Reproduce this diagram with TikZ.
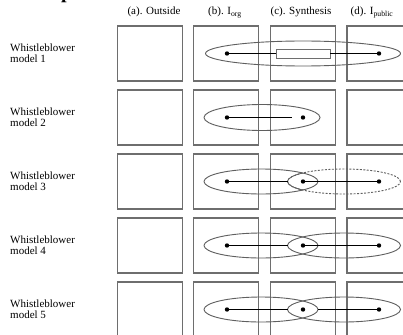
\documentclass[tikz,border=0pt]{standalone}
\usepackage{fontspec}
\setmainfont{Liberation Serif}
\definecolor{boxgray}{RGB}{110,110,110}
\definecolor{ellgray}{RGB}{95,95,95}
\begin{document}
\begin{tikzpicture}[x=1pt,y=-1pt,
  cell/.style={draw=boxgray, line width=1.1pt, minimum width=65pt, minimum height=55pt, inner sep=0pt, outer sep=0pt},
  lab/.style={font=\fontsize{11}{11}\selectfont, align=left, inner sep=0pt, anchor=west},
  head/.style={font=\fontsize{11}{12}\selectfont, inner sep=0pt, anchor=base},
  ell/.style={draw=ellgray, line width=0.9pt},
  dashell/.style={draw=ellgray, line width=0.9pt, dash pattern=on 2pt off 1.5pt},
  conn/.style={draw=black, line width=1.1pt},
  dot/.style={circle, fill=black, inner sep=0pt, minimum size=4.4pt, outer sep=0pt},
  barbox/.style={draw=boxgray, fill=white, line width=0.8pt, minimum width=54pt, minimum height=9pt, inner sep=0pt, outer sep=0pt}]
\useasboundingbox (0,0) rectangle (403,334);
\fill[white] (0,0) rectangle (403,334);

% cropped title fragment
\node[font=\bfseries\fontsize{20}{20}\selectfont, anchor=base west, inner sep=0pt] (ptitle) at (61,-1.6) {p};

% headers
\node[head] (ha) at (154,15) {(a). Outside};
\node[head] (hb) at (225,15) {(b). I\textsubscript{org}};
\node[head] (hc) at (301,15) {(c). Synthesis};
\node[head] (hd) at (372,15) {(d). I\textsubscript{public}};

% rows of boxes and labels
\foreach \r/\y in {1/53.5,2/117.5,3/181.5,4/245.5,5/309.5} {
  \node[lab] (lab\r) at (10,\y) {Whistleblower\\model \r};
  \foreach \c/\x in {a/150,b/226,c/303,d/379.5}
    \node[cell] (r\r\c) at (\x,\y) {};
}

% model 1
\draw[ell] (303,53.5) ellipse [x radius=97.5pt, y radius=12.5pt];
\node[dot] (d1l) at (227,53.5) {};
\node[dot] (d1r) at (379,53.5) {};
\node[barbox] (bar1) at (303,53.5) {};
\draw[conn] (d1l) -- (bar1.west);
\draw[conn] (bar1.east) -- (d1r);

% model 2
\draw[ell] (262,117.5) ellipse [x radius=58pt, y radius=13pt];
\node[dot] (d2l) at (227,117.5) {};
\node[dot] (d2r) at (303,117.5) {};
\coordinate (e2) at (292,117.5);
\draw[conn] (d2l) -- (e2);

% model 3
\draw[ell] (261,181.5) ellipse [x radius=57pt, y radius=12.5pt];
\draw[dashell] (344,181.5) ellipse [x radius=56.5pt, y radius=12.5pt];
\begin{scope}
  \clip (261,181.5) ellipse [x radius=57pt, y radius=12.5pt];
  \draw[ell] (344,181.5) ellipse [x radius=56.5pt, y radius=12.5pt];
\end{scope}
\node[dot] (d3l) at (227,181.5) {};
\node[dot] (d3m) at (303,181.5) {};
\node[dot] (d3r) at (379,181.5) {};
\coordinate (l3) at (287.5,181.5);
\draw[conn] (d3l) -- (l3);
\draw[conn] (d3m) -- (d3r);

% model 4
\draw[ell] (261,245.5) ellipse [x radius=57pt, y radius=12.5pt];
\draw[ell] (344,245.5) ellipse [x radius=56.5pt, y radius=12.5pt];
\node[dot] (d4l) at (227,245.5) {};
\node[dot] (d4m) at (303,245.5) {};
\node[dot] (d4r) at (379,245.5) {};
\coordinate (l4) at (287.5,245.5);
\draw[conn] (d4l) -- (l4);
\draw[conn] (d4m) -- (d4r);

% model 5
\draw[ell] (261,309.5) ellipse [x radius=57pt, y radius=12.5pt];
\draw[ell] (344,309.5) ellipse [x radius=56.5pt, y radius=12.5pt];
\node[dot] (d5l) at (227,309.5) {};
\node[dot] (d5m) at (303,309.5) {};
\node[dot] (d5r) at (379,309.5) {};
\coordinate (l5) at (287.5,309.5);
\coordinate (r5) at (318,309.5);
\draw[conn] (d5l) -- (l5);
\draw[conn] (r5) -- (d5r);
\end{tikzpicture}
\end{document}
